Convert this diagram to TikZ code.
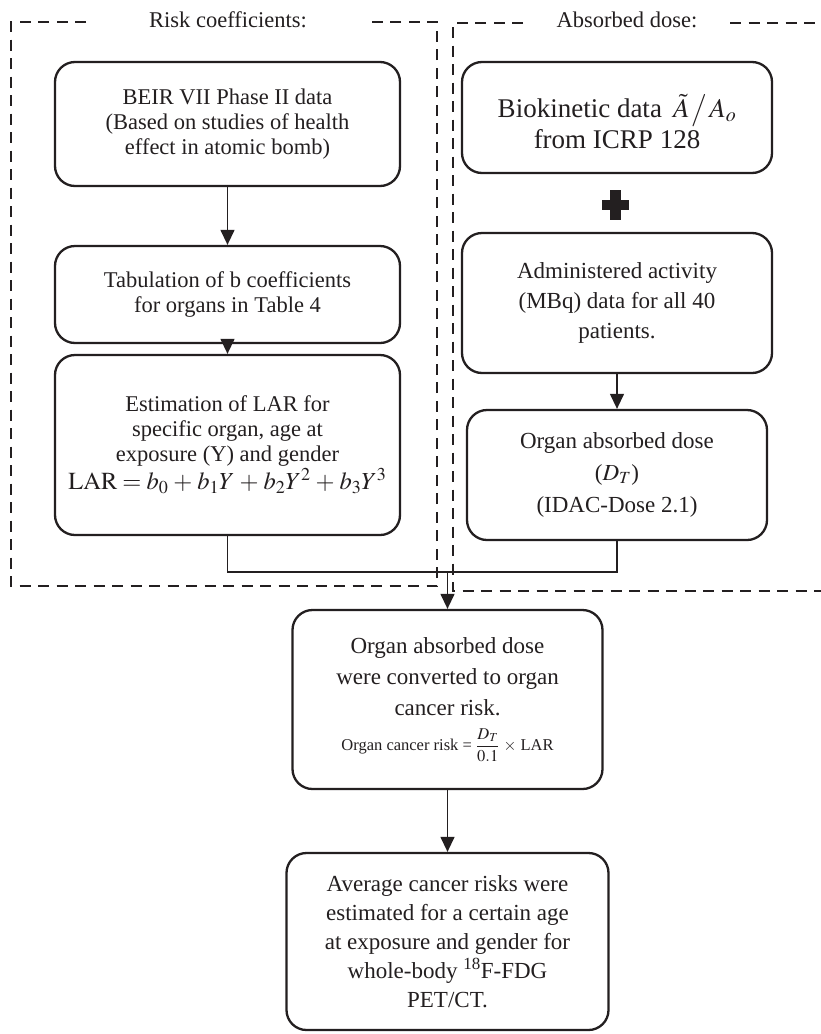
\documentclass[tikz,border=0pt]{standalone}
\usepackage{mathptmx}
\usepackage[no-math]{fontspec}
\setmainfont{Liberation Serif}
\usetikzlibrary{arrows.meta}
\definecolor{txt}{HTML}{231F20}
\newcommand{\gp}{\hskip5pt\relax}
\begin{document}
\begin{tikzpicture}[x=1pt,y=-1pt,
  box/.style={draw=txt, line width=2.3pt, rounded corners=20pt, align=center, text=txt, inner sep=0pt},
  fA/.style={font=\fontsize{22.5}{25}\selectfont},
  fR/.style={font=\fontsize{23}{30}\selectfont},
  frame/.style={draw=txt, line width=2.3pt, dash pattern=on 11pt off 7.5pt},
  conn/.style={draw=txt, line width=1.3pt},
  arr/.style={conn, -{Triangle[length=15pt,width=14pt]}},
  lbl/.style={text=txt, font=\fontsize{22.5}{25}\selectfont, inner sep=0pt}]
\useasboundingbox (0,0) rectangle (821,1034);
\fill[white] (0,0) rectangle (821,1034);
% frames
\node[lbl] (rc) at (228,20) {Risk coefficients:};
\node[lbl] (ad) at (627,20) {Absorbed dose:};
\draw[frame] (86,22) -- (11,22) -- (11,586) -- (437,586) -- (437,22) -- (364,22);
\draw[frame] (523,23) -- (453,23) -- (453,591) -- (830,591);
\draw[frame] (730,23) -- (830,23);
% left column
\node[box, fA, minimum width=345, minimum height=180] (c) at (227.5,445)
  {Estimation of LAR for\\specific organ, age at\\exposure (Y) and gender\\[1pt]
   {\fontsize{24.5}{26}\selectfont\medmuskip=0mu\thickmuskip=0mu $\mathrm{LAR}\gp=\gp b_0\gp+\gp b_1Y\gp+\gp b_2Y^2\gp+\gp b_3Y^3$}};
\node[box, fA, minimum width=345, minimum height=124] (a) at (227.5,124)
  {BEIR VII Phase II data\\(Based on studies of health\\effect in atomic bomb)};
\node[box, fA, minimum width=345, minimum height=97] (b) at (227.5,294.5)
  {Tabulation of b coefficients\\for organs in Table 4};
% right column
\node[box, font=\fontsize{27}{31}\selectfont, minimum width=310, minimum height=111] (d) at (617,117.5)
  {\rule{0pt}{32pt}Biokinetic data \,$\tilde{A}\hskip2pt\relax\big/\hskip2pt\relax A_o$\\from ICRP 128};
\fill[txt] (602,199.7) rectangle (629,210.3);
\fill[txt] (610.2,190) rectangle (620.8,220);
\node[box, fR, minimum width=310, minimum height=140] (e) at (617,303)
  {Administered activity\\(MBq) data for all 40\\patients.};
\node[box, font=\fontsize{23}{32}\selectfont, minimum width=300, minimum height=130] (f) at (617,475)
  {Organ absorbed dose\\($D_T$)\\(IDAC-Dose 2.1)};
% bottom
\node[box, font=\fontsize{23}{31}\selectfont, minimum width=310, minimum height=179] (g) at (447.5,699.5)
  {Organ absorbed dose\\were converted to organ\\cancer risk.\\[4pt]
   {\fontsize{16.5}{18}\selectfont Organ cancer risk = ${\displaystyle\frac{D_T}{0.1}}$ $\times$ LAR}};
\node[box, font=\fontsize{23}{29}\selectfont, minimum width=322, minimum height=177] (h) at (447.5,941.5)
  {Average cancer risks were\\estimated for a certain age\\at exposure and gender for\\whole-body \textsuperscript{18}F-FDG\\PET/CT.};
% connectors
\coordinate (j) at (447.5,572);
\draw[arr] (a) -- (b);
\draw[arr] (b) -- (c);
\draw[arr] (e.south -| f.north) -- (f.north);
\draw[conn] (c.south) |- (j);
\draw[conn] (f.south) |- (j);
\draw[arr] (j) -- (g.north);
\draw[arr] (g) -- (h);
\end{tikzpicture}
\end{document}
